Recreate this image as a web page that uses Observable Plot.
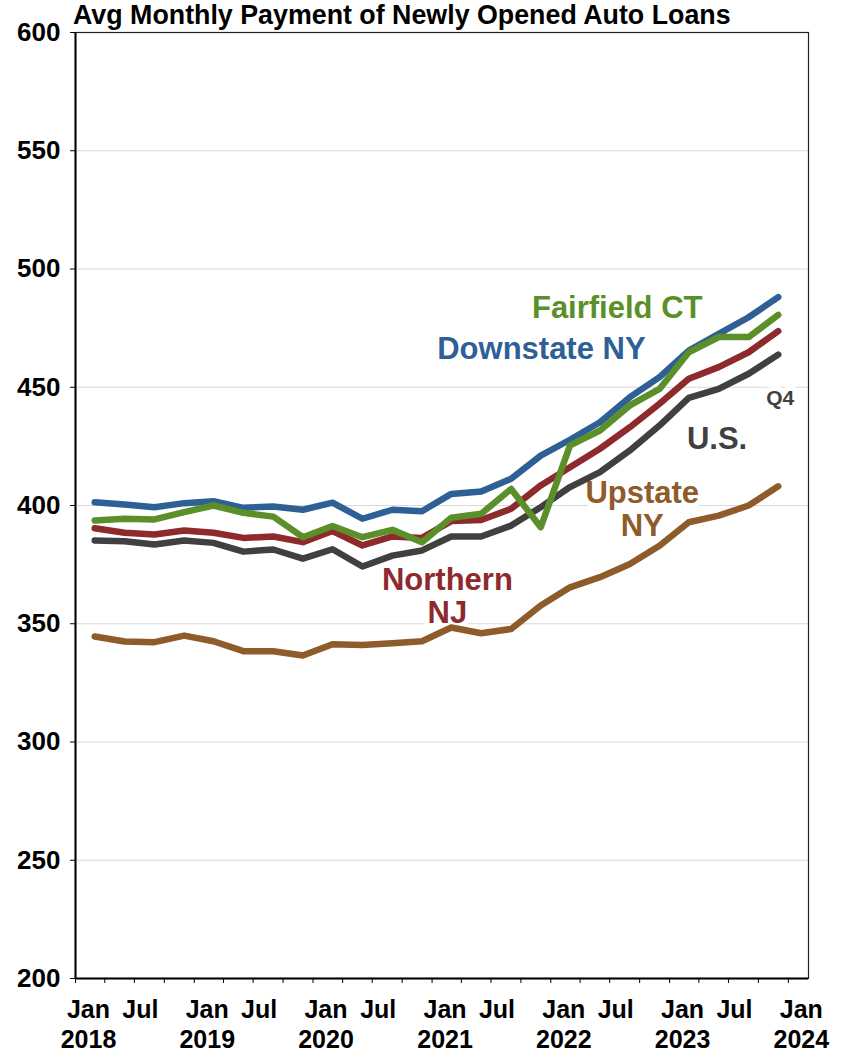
<!DOCTYPE html>
<html>
<head>
<meta charset="utf-8">
<script src="https://cdn.jsdelivr.net/npm/d3@7"></script>
<script src="https://cdn.jsdelivr.net/npm/@observablehq/plot@0.6"></script>
<style>
  html, body { margin: 0; padding: 0; background: #fff; }
  #wrap { position: relative; width: 849px; height: 1055px; }
  #title { position: absolute; left: 73px; top: 0; font-family: "Liberation Sans", Arial, sans-serif;
           font-weight: bold; font-size: 26.8px; line-height: 31px; color: #000; white-space: nowrap; z-index: 2; }
  #chart { position: absolute; left: 0; top: 0; }
</style>
</head>
<body>
<div id="wrap">
<div id="title">Avg Monthly Payment of Newly Opened Auto Loans</div>
<div id="chart"></div>
</div>
<script>
// Quarters 2018Q1 .. 2023Q4
const quarters = ["2018Q1","2018Q2","2018Q3","2018Q4","2019Q1","2019Q2","2019Q3","2019Q4",
  "2020Q1","2020Q2","2020Q3","2020Q4","2021Q1","2021Q2","2021Q3","2021Q4",
  "2022Q1","2022Q2","2022Q3","2022Q4","2023Q1","2023Q2","2023Q3","2023Q4"];

const downstateNY = [401.4,400.4,399.3,401.0,401.8,399.0,399.6,398.2,401.2,394.4,398.2,397.6,
  404.9,405.9,411.3,421.1,427.8,435.2,445.8,454.3,465.5,472.6,479.6,488.1];
const fairfieldCT = [393.7,394.4,394.1,397.2,400.0,396.9,395.3,386.6,391.3,386.6,389.7,384.5,
  394.8,396.5,407.0,390.8,425.4,431.7,442.3,449.3,464.8,471.2,471.2,480.6];
const northernNJ = [390.4,388.5,387.7,389.4,388.5,386.3,386.9,384.5,389.2,383.1,386.9,386.3,
  393.4,393.9,398.6,408.5,416.2,424.0,433.1,443.0,453.6,458.5,464.8,473.7];
const us = [385.2,384.9,383.5,385.2,384.2,380.5,381.4,377.5,381.5,374.2,378.8,381.0,
  386.9,386.9,391.5,399.3,407.8,414.1,423.3,433.8,445.5,449.3,455.7,463.8];
const upstateNY = [344.6,342.5,342.2,345.0,342.6,338.4,338.4,336.6,341.3,341.0,341.8,342.6,
  348.4,346.0,347.8,357.7,365.4,369.7,375.3,383.0,392.9,395.7,400.0,408.1];

const yTicks = [200,250,300,350,400,450,500,550,600];
const gridValues = [250,300,350,400,450,500,550];
const years = [2018,2019,2020,2021,2022,2023,2024];

const seriesNames = ["Upstate NY","U.S.","Northern NJ","Downstate NY","Fairfield CT"];
const seriesValues = [upstateNY, us, northernNJ, downstateNY, fairfieldCT];
const colors = {
  "Upstate NY": "#8E5B2B",
  "U.S.": "#404040",
  "Northern NJ": "#8E2A2C",
  "Downstate NY": "#2E6096",
  "Fairfield CT": "#5B8F2A"
};

// quarter point sits at the first day of the quarter's last month
function qDate(q) {
  const y = +q.slice(0,4), n = +q.slice(5);
  return new Date(y, (n - 1) * 3 + 2, 1);
}

const rows = [];
seriesNames.forEach((name, si) => {
  quarters.forEach((q, i) => rows.push({series: name, date: qDate(q), value: seriesValues[si][i]}));
});

const quarterTicks = [];
for (let y = 2018; y <= 2024; y++) for (let m = 0; m < 12; m += 3) {
  const d = new Date(y, m, 1);
  if (d <= new Date(2024, 0, 1)) quarterTicks.push(d);
}
const janTicks = years.map(y => new Date(y, 0, 1));
const julTicks = years.slice(0, -1).map(y => new Date(y, 6, 1));

const font = "Liberation Sans, Arial, sans-serif";

const labels = [
  {text: "Fairfield CT", date: new Date(2022, 6, 24), value: 479.4, color: colors["Fairfield CT"], size: 31},
  {text: "Downstate NY", date: new Date(2021, 11, 3), value: 462.0, color: colors["Downstate NY"], size: 31},
  {text: "Northern\nNJ", date: new Date(2021, 1, 17), value: 350.5, color: colors["Northern NJ"], size: 31},
  {text: "U.S.", date: new Date(2023, 4, 27), value: 424.1, color: colors["U.S."], size: 31},
  {text: "Upstate\nNY", date: new Date(2022, 9, 9), value: 387.3, color: colors["Upstate NY"], size: 31},
  {text: "Q4", date: new Date(2023, 11, 7), value: 442.7, color: colors["U.S."], size: 21}
];

const chart = Plot.plot({
  width: 849,
  height: 1055,
  marginLeft: 75,
  marginRight: 41,
  marginTop: 32,
  marginBottom: 77,
  style: {fontFamily: font, fontWeight: "bold", color: "#000", background: "#fff"},
  x: {type: "time", domain: [new Date(2018, 0, 1), new Date(2024, 2, 3)]},
  y: {domain: [200, 600]},
  marks: [
    Plot.ruleY(gridValues, {stroke: "#d9d9d9", strokeWidth: 1}),
    Plot.text(labels.filter(d => d.size === 31), {
      x: "date", y: "value", text: "text", fill: "color", fontSize: 31, fontWeight: "bold",
      lineAnchor: "bottom", lineHeight: 1.05, textAnchor: "middle",
      stroke: "white", strokeWidth: 10
    }),
    Plot.text(labels.filter(d => d.size === 21), {
      x: "date", y: "value", text: "text", fill: "color", fontSize: 21, fontWeight: "bold",
      lineAnchor: "bottom", textAnchor: "middle", stroke: "white", strokeWidth: 10
    }),
    Plot.line(rows, {
      x: "date", y: "value", z: "series", stroke: d => colors[d.series],
      strokeWidth: 6.5, strokeLinecap: "round", strokeLinejoin: "round"
    }),
    Plot.frame({stroke: "#222", strokeWidth: 1.2}),
    Plot.ruleX([new Date(2018, 0, 1)], {stroke: "#000", strokeWidth: 2}),
    Plot.ruleY([200], {stroke: "#000", strokeWidth: 2}),
    Plot.axisY({ticks: yTicks, tickSize: 5, tickPadding: 10, fontSize: 26, fontWeight: "bold",
      label: null, stroke: "#000"}),
    Plot.axisX({ticks: quarterTicks, tickSize: 5, tickFormat: () => "", label: null, stroke: "#000"}),
    Plot.axisX({ticks: janTicks, tickSize: 0, tickPadding: 22, dx: 13, fontSize: 25, fontWeight: "bold",
      lineAnchor: "top", tickFormat: () => "Jan", label: null}),
    Plot.axisX({ticks: janTicks, tickSize: 0, tickPadding: 52, dx: 13, fontSize: 25, fontWeight: "bold",
      lineAnchor: "top", tickFormat: d => String(d.getFullYear()), label: null}),
    Plot.axisX({ticks: julTicks, tickSize: 0, tickPadding: 22, dx: 6, fontSize: 25, fontWeight: "bold",
      lineAnchor: "top", tickFormat: () => "Jul", label: null})
  ]
});
document.getElementById("chart").appendChild(chart);
</script>
</body>
</html>
